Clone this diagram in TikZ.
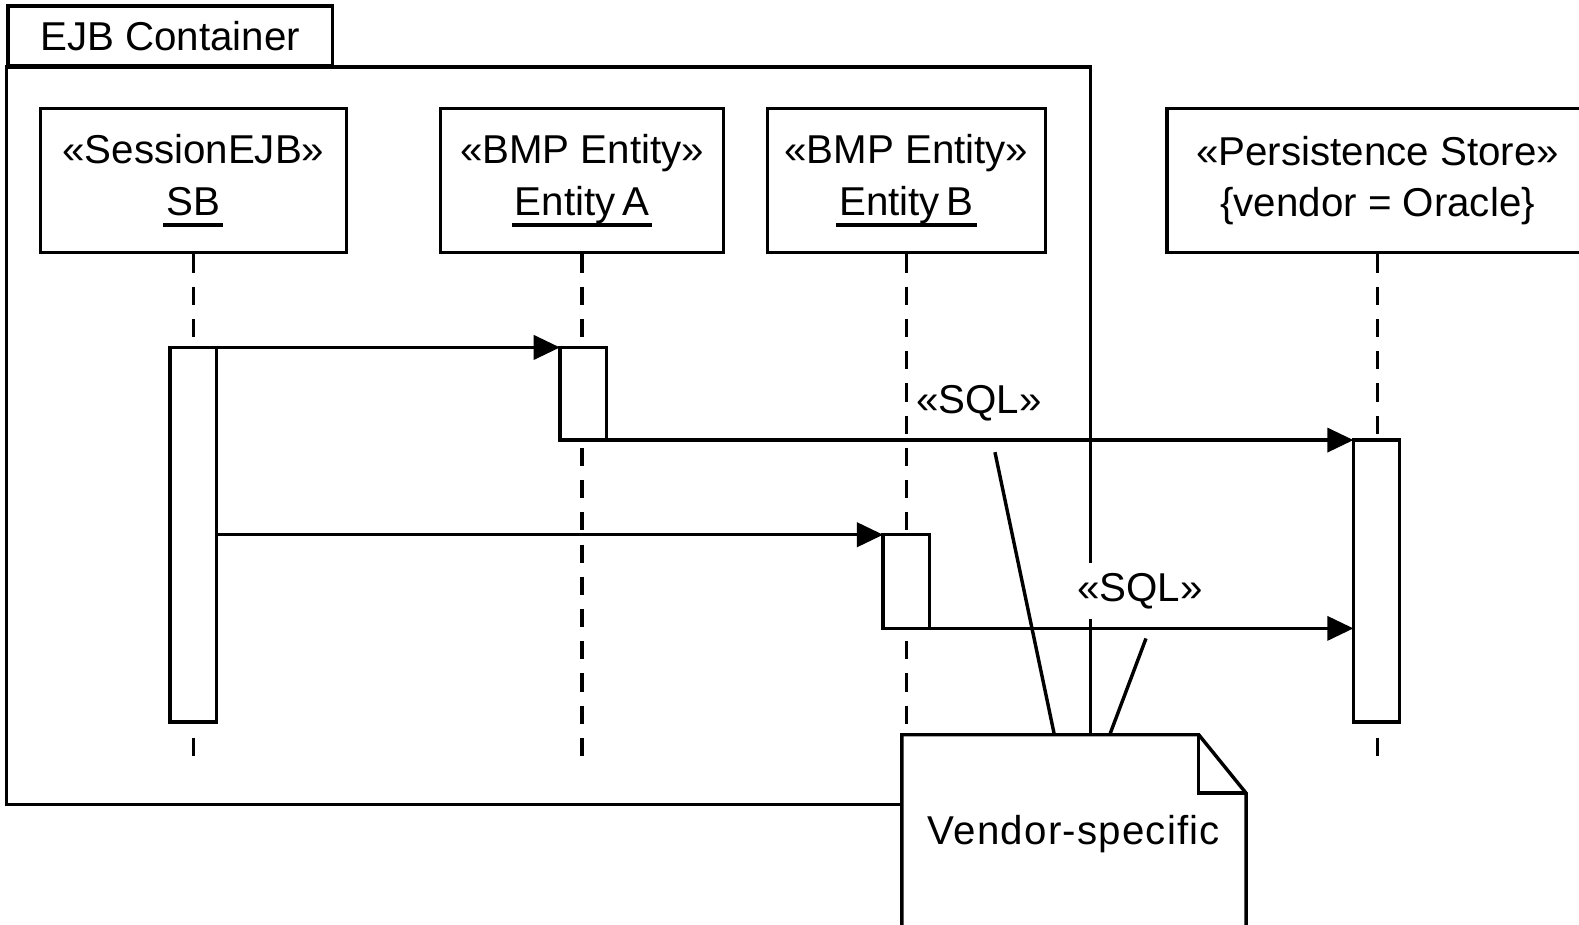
\documentclass[tikz,border=0pt]{standalone}
\usepackage{fontspec}
\setmainfont{Liberation Sans}
\usetikzlibrary{arrows.meta, positioning, calc}

% underlined instance name
\newcommand{\objname}[1]{\setbox0\hbox{#1}\leavevmode
  \rlap{\hspace{-1.5pt}\raisebox{-5.75pt}{\rule{\dimexpr\wd0+3pt\relax}{1.7pt}}}\box0}

\begin{document}
\begin{tikzpicture}[
  x=0.5pt, y=-0.5pt,
  >={Triangle[length=13pt, width=12pt]},
  every node/.style={font=\fontsize{20}{25.5}\selectfont},
  tabbox/.style={draw, line width=1.7pt, inner sep=0pt},
  obj/.style={tabbox, align=center, execute at begin node={\rule{0pt}{21pt}}},
  act/.style={draw, fill=white, line width=1.7pt, minimum width=23pt,
    inner sep=0pt, outer sep=0pt, anchor=north},
  life/.style={line width=1.7pt, dash pattern=on 9pt off 7pt},
  msg/.style={->, line width=1.7pt},
  stereo/.style={fill=white, inner xsep=2pt, inner ysep=5pt},
]

% Page
\useasboundingbox (0,0) rectangle (1568,918);

% ========================================
% Container frame
% ========================================
\node[tabbox, minimum width=161pt, minimum height=29.5pt] (tab) at (169,35.5)
  {EJB Container};
\draw[line width=1.7pt] (tab.south west) rectangle (1083,799);

% ========================================
% Objects
% ========================================
\node[obj, minimum width=152pt, minimum height=71.5pt] (sb) at (192,179.5)
  {«SessionEJB»\\\objname{SB}};
\node[obj, minimum width=140.5pt, minimum height=71.5pt] (enta) at (578,179.5)
  {«BMP Entity»\\\objname{Entity\,A}};
\node[obj, minimum width=138pt, minimum height=71.5pt] (entb) at (900,179.5)
  {«BMP Entity»\\\objname{Entity\,B}};
\node[obj, minimum width=209pt, minimum height=71.5pt] (store) at (1368,179.5)
  {«Persistence Store»\\\{vendor = Oracle\}};

% Lifelines
\foreach \o in {sb, enta, entb, store}
  \draw[life] (\o.south) -- ++(0,501);

% ========================================
% Activations
% ========================================
\node[act, minimum height=186pt] (asb) at (192,345) {};
\node[act, minimum height=46pt] (aa) at (579,345) {};
\node[act, minimum height=46.5pt] (ab) at (900,531) {};
\node[act, minimum height=140pt] (as) at (1367,437) {};

% ========================================
% Messages
% ========================================
\draw[msg] (asb.north east) -- (aa.north west);
\draw[msg] (aa.south east) -- (as.north west);
\draw[msg] (asb.east |- ab.north) -- (ab.north west);
\draw[msg] (ab.south east) -- (as.west |- ab.south east);

\node[stereo] (sql1) at (972,400) {«SQL»};
\node[stereo] (sql2) at (1132,587) {«SQL»};

% ========================================
% Note
% ========================================
\coordinate (n1) at (988,449);
\coordinate (n2) at (1138,634);

\node[fill=white, inner sep=0pt, minimum width=170.5pt, minimum height=98pt,
  font=\fontsize{20}{24}\selectfont\addfontfeatures{LetterSpace=3}]
  (note) at (1066.5,828) {Vendor-specific};

\draw[line width=1.7pt] (n1) -- ([xshift=-9.75pt]note.north);
\draw[line width=1.7pt] (n2) -- ([xshift=17.75pt]note.north);

\draw[line width=1.7pt] (note.south west) -- (note.north west)
  -- ([xshift=-23.5pt]note.north east) -- ([yshift=-29pt]note.north east)
  -- (note.south east);
\draw[line width=1.7pt] ([xshift=-23.5pt]note.north east)
  -- ([xshift=-23.5pt, yshift=-29pt]note.north east)
  -- ([yshift=-29pt]note.north east);

\end{tikzpicture}
\end{document}
